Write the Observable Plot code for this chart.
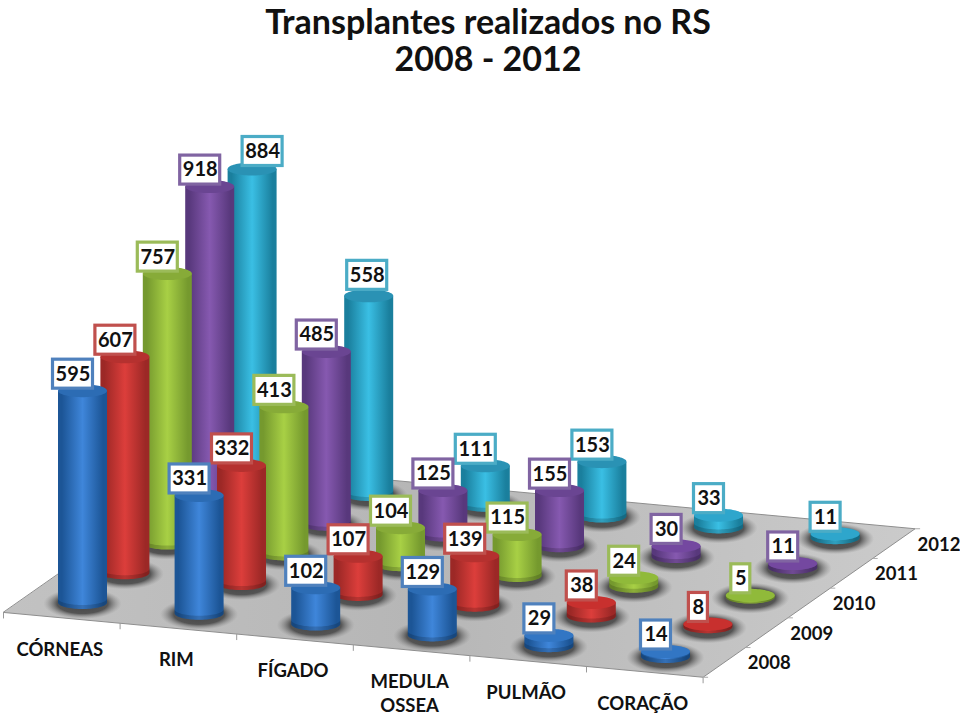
<!DOCTYPE html>
<html lang="pt">
<head>
<meta charset="utf-8">
<script src="https://cdn.jsdelivr.net/npm/d3@7"></script>
<script src="https://cdn.jsdelivr.net/npm/@observablehq/plot@0.6"></script>
<style>
html,body{margin:0;padding:0;background:#fff;overflow:hidden}
#title{height:80px;box-sizing:border-box;padding-top:4px;text-align:center;font:700 34px/34px Lato,sans-serif;color:#111;width:976px}
#title div+div{margin-top:3px}
#chart svg{display:block}
</style>
</head>
<body>
<div id="title"><div>Transplantes realizados no RS</div><div>2008 - 2012</div></div>
<div id="chart"></div>
<script>
const categories = ["CÓRNEAS", "RIM", "FÍGADO", "MEDULA\nOSSEA", "PULMÃO", "CORAÇÃO"];
const years = ["2008", "2009", "2010", "2011", "2012"];
const corneas = [595, 607, 757, 918, 884];
const rim = [331, 332, 413, 485, 558];
const figado = [102, 107, 104, 125, 111];
const medula = [129, 139, 115, 155, 153];
const pulmao = [29, 38, 24, 30, 33];
const coracao = [14, 8, 5, 11, 11];
const series = [corneas, rim, figado, medula, pulmao, coracao];

const edgeColors = ["#4f81bd", "#c0504d", "#9bbb59", "#8064a2", "#4bacc6"];
const sideColors = [
  ["#1c5596", "#3f86da"], ["#9c2826", "#dc3e3b"], ["#75992e", "#a8d045"],
  ["#58387c", "#8659b0"], ["#1a7f9d", "#3abfe4"]
];
const topColors = ["#2c6cb4", "#b5312f", "#87ab38", "#6a4592", "#2a92b4"];
const diskTopColors = ["#3276c4", "#c8302e", "#90ba3a", "#7448a0", "#2ea6cc"];

// Oblique projection of the chart's floor and height onto the picture.
const catStep = [116.6, 10.8], yearStep = [42.4, -29.7], origin = [82.5, 602.5], unit = 0.356;
const rx = 24.5, ry = 6.5;
const project = (c, y) => [origin[0] + catStep[0] * c + yearStep[0] * y, origin[1] + catStep[1] * c + yearStep[1] * y];

const labelNudge = {"0-4": [20, -1], "1-4": [8, -4]};
const boxWidth = [0, 19, 30, 40];
const rows = series.flatMap((vals, c) => vals.map((v, y) => {
  const [bx, by] = project(c, y);
  const [nx, ny] = labelNudge[`${c}-${y}`] ?? [0, 0];
  return {id: `${c}-${y}`, c, y, v, bx, by, ty: by - v * unit, lx: bx - 10 + nx, ly: by - v * unit - 17 + ny, w: boxWidth[String(v).length]};
}));

const steps = d3.range(0, 41).map(i => i * Math.PI / 40);
const arc = (d, fn) => steps.map(a => ({id: d.id, v: d.v, ...fn(-Math.cos(a), Math.sin(a))}));
const bodies = rows.flatMap(d => arc(d, (t, s) => ({y: d.y, x: d.bx + rx * t, y1: d.by + ry * s, y2: d.ty})));
const rims = rows.flatMap(d => arc(d, (t, s) => ({y: d.y, x: d.bx + rx * t, y1: d.by + ry * s, y2: d.by + ry * s - Math.min(4, d.by - d.ty)})));
const tops = rows.flatMap(d => arc(d, (t, s) => ({y: d.y, x: d.bx + rx * t, y1: d.ty + ry * s, y2: d.ty - ry * s})));
const shadows = rows.flatMap(d => arc(d, (t, s) => ({x: d.bx + 39 * t, y1: d.by + 1 + 15.5 * s, y2: d.by + 1 - 15.5 * s})));

const floor = [project(-0.5, -0.5), project(5.5, -0.5), project(5.5, 4.5), project(-0.5, 4.5)].map(([x, y]) => ({x, y}));
const catTicks = d3.range(0, 7).map(i => { const [x, y] = project(i - 0.5, -0.5); return {x, y}; });
const yearTicks = d3.range(0, 6).map(i => { const [x, y] = project(5.5, i - 0.5); return {x, y}; });
const catLabels = categories.map((name, c) => { const [x, y] = project(c, -0.5); return {name, x: x - 2, y: y + 30 + (name.includes("\n") ? 12 : 0)}; });
const yearLabels = years.map((name, i) => { const [x, y] = project(5.5, i); return {name, x: x + 45, y: y + 1}; });

const defs = () => {
  const d = d3.create("svg:defs");
  sideColors.forEach(([e, m], i) => {
    const g = d.append("linearGradient").attr("id", `side${i}`).attr("x1", 0).attr("x2", 1).attr("y1", 0).attr("y2", 0);
    [[0, e], [0.08, e], [0.5, m], [0.92, e], [1, e]].forEach(([o, col]) => g.append("stop").attr("offset", o).attr("stop-color", col));
  });
  const f = d.append("linearGradient").attr("id", "floor").attr("x1", 0).attr("x2", 1).attr("y1", 0).attr("y2", 0);
  [[0, "#c2c2c2"], [0.45, "#b6b6b6"], [1, "#cbcbcb"]].forEach(([o, col]) => f.append("stop").attr("offset", o).attr("stop-color", col));
  const s = d.append("radialGradient").attr("id", "shade");
  [[0, "#444", 1], [0.65, "#4e4e4e", 0.95], [1, "#8a8a8a", 0]].forEach(([o, col, a]) => s.append("stop").attr("offset", o).attr("stop-color", col).attr("stop-opacity", a));
  return d.node();
};

const order = [4, 3, 2, 1, 0];
const cylinderMarks = order.flatMap(i => [
  Plot.areaY(bodies.filter(d => d.y === i), {x: "x", y1: "y1", y2: "y2", z: "id", fill: `url(#side${i})`, curve: "linear"}),
  Plot.areaY(rims.filter(d => d.y === i), {x: "x", y1: "y1", y2: "y2", z: "id", fill: "#000", fillOpacity: 0.16, curve: "linear"}),
  Plot.areaY(tops.filter(d => d.y === i && d.v >= 50), {x: "x", y1: "y1", y2: "y2", z: "id", fill: topColors[i], curve: "linear"}),
  Plot.areaY(tops.filter(d => d.y === i && d.v < 50), {x: "x", y1: "y1", y2: "y2", z: "id", fill: diskTopColors[i], curve: "linear"})
]);
const labelMarks = order.flatMap(i => {
  const r = rows.filter(d => d.y === i);
  return [
    Plot.rect(r, {x1: d => d.lx - d.w / 2, x2: d => d.lx + d.w / 2, y1: d => d.ly - 14.5, y2: d => d.ly + 14.5, fill: "#fff", stroke: edgeColors[i], strokeWidth: 3.2}),
    Plot.text(r, {x: "lx", y: "ly", text: d => String(d.v), fontSize: 20, fontWeight: 700, fill: "#111"})
  ];
});

const chart = Plot.plot({
  width: 960, height: 636, margin: 0,
  x: {domain: [0, 960], range: [0, 960], axis: null},
  y: {domain: [80, 716], range: [0, 636], axis: null},
  style: {fontFamily: "Lato, sans-serif", background: "#fff"},
  marks: [
    defs,
    Plot.line(floor, {x: "x", y: "y", curve: "linear-closed", fill: "url(#floor)", stroke: "#8e8e8e", strokeWidth: 1}),
    Plot.link(catTicks, {x1: "x", x2: "x", y1: "y", y2: d => d.y + 6, stroke: "#999", strokeWidth: 1}),
    Plot.link(yearTicks, {x1: "x", x2: d => d.x + 5, y1: "y", y2: "y", stroke: "#aaa", strokeWidth: 1}),
    Plot.areaY(shadows, {x: "x", y1: "y1", y2: "y2", z: (d, i) => Math.floor(i / 41), fill: "url(#shade)", curve: "linear"}),
    ...cylinderMarks,
    ...labelMarks,
    Plot.text(catLabels, {x: "x", y: "y", text: "name", fontSize: 18.5, fontWeight: 700, fill: "#111", lineHeight: 1.3}),
    Plot.text(yearLabels, {x: "x", y: "y", text: "name", fontSize: 18.5, fontWeight: 700, fill: "#111"})
  ]
});
document.getElementById("chart").append(chart);
</script>
</body>
</html>
